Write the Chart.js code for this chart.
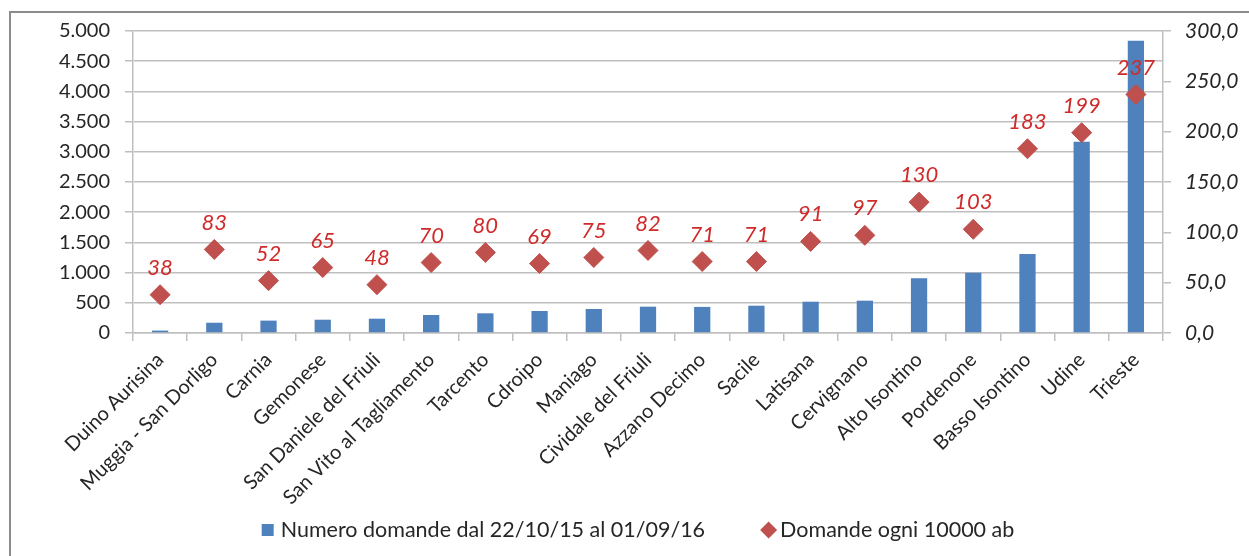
<!DOCTYPE html>
<html>
<head>
<meta charset="utf-8">
<script src="https://cdn.jsdelivr.net/npm/chart.js@4.4.1/dist/chart.umd.min.js"></script>
<style>
  html, body { margin: 0; padding: 0; background: #fff; }
  #wrap { position: relative; width: 1249px; height: 556px; overflow: hidden; }
  #frame { position: absolute; left: 9px; top: 11px; width: 1260px; height: 600px; border: 2px solid #8c8c8c; box-sizing: border-box; }
  canvas { position: absolute; left: 0; top: 0; }
</style>
</head>
<body>
<div id="wrap">
  <div id="frame"></div>
  <canvas id="chart" width="1249" height="556"></canvas>
</div>
<script>
const categories = [
  'Duino Aurisina', 'Muggia - San Dorligo', 'Carnia', 'Gemonese', 'San Daniele del Friuli',
  'San Vito al Tagliamento', 'Tarcento', 'Cdroipo', 'Maniago', 'Cividale del Friuli',
  'Azzano Decimo', 'Sacile', 'Latisana', 'Cervignano', 'Alto Isontino',
  'Pordenone', 'Basso Isontino', 'Udine', 'Trieste'
]
const domande = [40, 170, 205, 220, 237, 298, 326, 364, 397, 436, 432, 452, 518, 535, 905, 998, 1308, 3167, 4839]
const domandeOgni10000 = [38, 83, 52, 65, 48, 70, 80, 69, 75, 82, 71, 71, 91, 97, 130, 103, 183, 199, 237]

const FONT = 'Lato, "Open Sans", sans-serif'
const GRID = '#bfbfbf'
const TEXT = '#262626'
const BLUE = '#4f81bd'
const RED = '#c0504d'

// red italic numbers above the diamonds
const pointLabels = {
  id: 'pointLabels',
  afterDatasetsDraw(chart) {
    const ctx = chart.ctx
    const meta = chart.getDatasetMeta(1)
    ctx.save()
    ctx.font = 'italic 22px ' + FONT
    ctx.fillStyle = '#d02a2a'
    ctx.textAlign = 'center'
    ctx.textBaseline = 'middle'
    meta.data.forEach((pt, i) => {
      ctx.fillText(String(domandeOgni10000[i]), pt.x, pt.y - 27)
    })
    ctx.restore()
  },
}

// legend drawn by hand so the gap between the two items matches the original
const bottomLegend = {
  id: 'bottomLegend',
  afterDraw(chart) {
    const ctx = chart.ctx
    const ds = chart.data.datasets
    ctx.save()
    ctx.font = '21.5px ' + FONT
    ctx.textBaseline = 'middle'
    const y = 530
    const w0 = ctx.measureText(ds[0].label).width
    const w1 = ctx.measureText(ds[1].label).width
    const total = 12 + 7 + w0 + 55 + 17 + 3 + w1
    let x = (chart.chartArea.left + chart.chartArea.right) / 2 - total / 2 - 10
    ctx.fillStyle = BLUE
    ctx.fillRect(x, y - 6, 12, 12)
    x += 19
    ctx.fillStyle = TEXT
    ctx.fillText(ds[0].label, x, y)
    x += w0 + 55
    ctx.fillStyle = RED
    ctx.beginPath()
    ctx.moveTo(x, y)
    ctx.lineTo(x + 8.5, y - 8.5)
    ctx.lineTo(x + 17, y)
    ctx.lineTo(x + 8.5, y + 8.5)
    ctx.closePath()
    ctx.fill()
    x += 20
    ctx.fillStyle = TEXT
    ctx.fillText(ds[1].label, x, y)
    ctx.restore()
  },
}

new Chart(document.getElementById('chart'), {
  data: {
    labels: categories,
    datasets: [
      {
        type: 'bar',
        label: 'Numero domande dal 22/10/15 al 01/09/16',
        data: domande,
        backgroundColor: BLUE,
        yAxisID: 'y',
        barPercentage: 0.3,
        categoryPercentage: 1,
        order: 2,
      },
      {
        type: 'line',
        label: 'Domande ogni 10000 ab',
        data: domandeOgni10000,
        yAxisID: 'y1',
        showLine: false,
        pointStyle: 'rectRot',
        pointRadius: 10,
        pointHoverRadius: 10,
        pointBackgroundColor: RED,
        pointBorderColor: RED,
        borderColor: RED,
        backgroundColor: RED,
        order: 1,
      },
    ],
  },
  options: {
    responsive: false,
    animation: false,
    layout: { padding: { top: 31, left: 0, right: 0, bottom: 46 } },
    plugins: {
      legend: { display: false },
      tooltip: { enabled: false },
    },
    scales: {
      x: {
        grid: { drawOnChartArea: false, drawTicks: true, tickLength: 8, color: GRID, lineWidth: 1.5 },
        border: { display: true, color: GRID, width: 1.5 },
        ticks: {
          color: TEXT,
          font: { family: FONT, size: 20 },
          maxRotation: 45,
          minRotation: 45,
          autoSkip: false,
          padding: 7,
        },
        afterFit: (s) => { s.height = 177 },
      },
      y: {
        position: 'left',
        min: 0,
        max: 5000,
        ticks: {
          stepSize: 500,
          color: TEXT,
          font: { family: FONT, size: 20 },
          padding: 15,
          callback: (v) => v.toLocaleString('it-IT'),
        },
        grid: { color: GRID, lineWidth: 1.5, tickLength: 8 },
        border: { display: true, color: GRID, width: 1.5 },
        afterFit: (s) => { s.width = 133 },
      },
      y1: {
        position: 'right',
        min: 0,
        max: 300,
        ticks: {
          stepSize: 50,
          color: TEXT,
          font: { family: FONT, size: 21, style: 'italic' },
          padding: 14,
          callback: (v) => v.toFixed(1).replace('.', ','),
        },
        grid: { drawOnChartArea: false, color: GRID, lineWidth: 1.5, tickLength: 8 },
        border: { display: true, color: GRID, width: 1.5 },
        afterFit: (s) => { s.width = 86 },
      },
    },
  },
  plugins: [pointLabels, bottomLegend],
})
</script>
</body>
</html>
